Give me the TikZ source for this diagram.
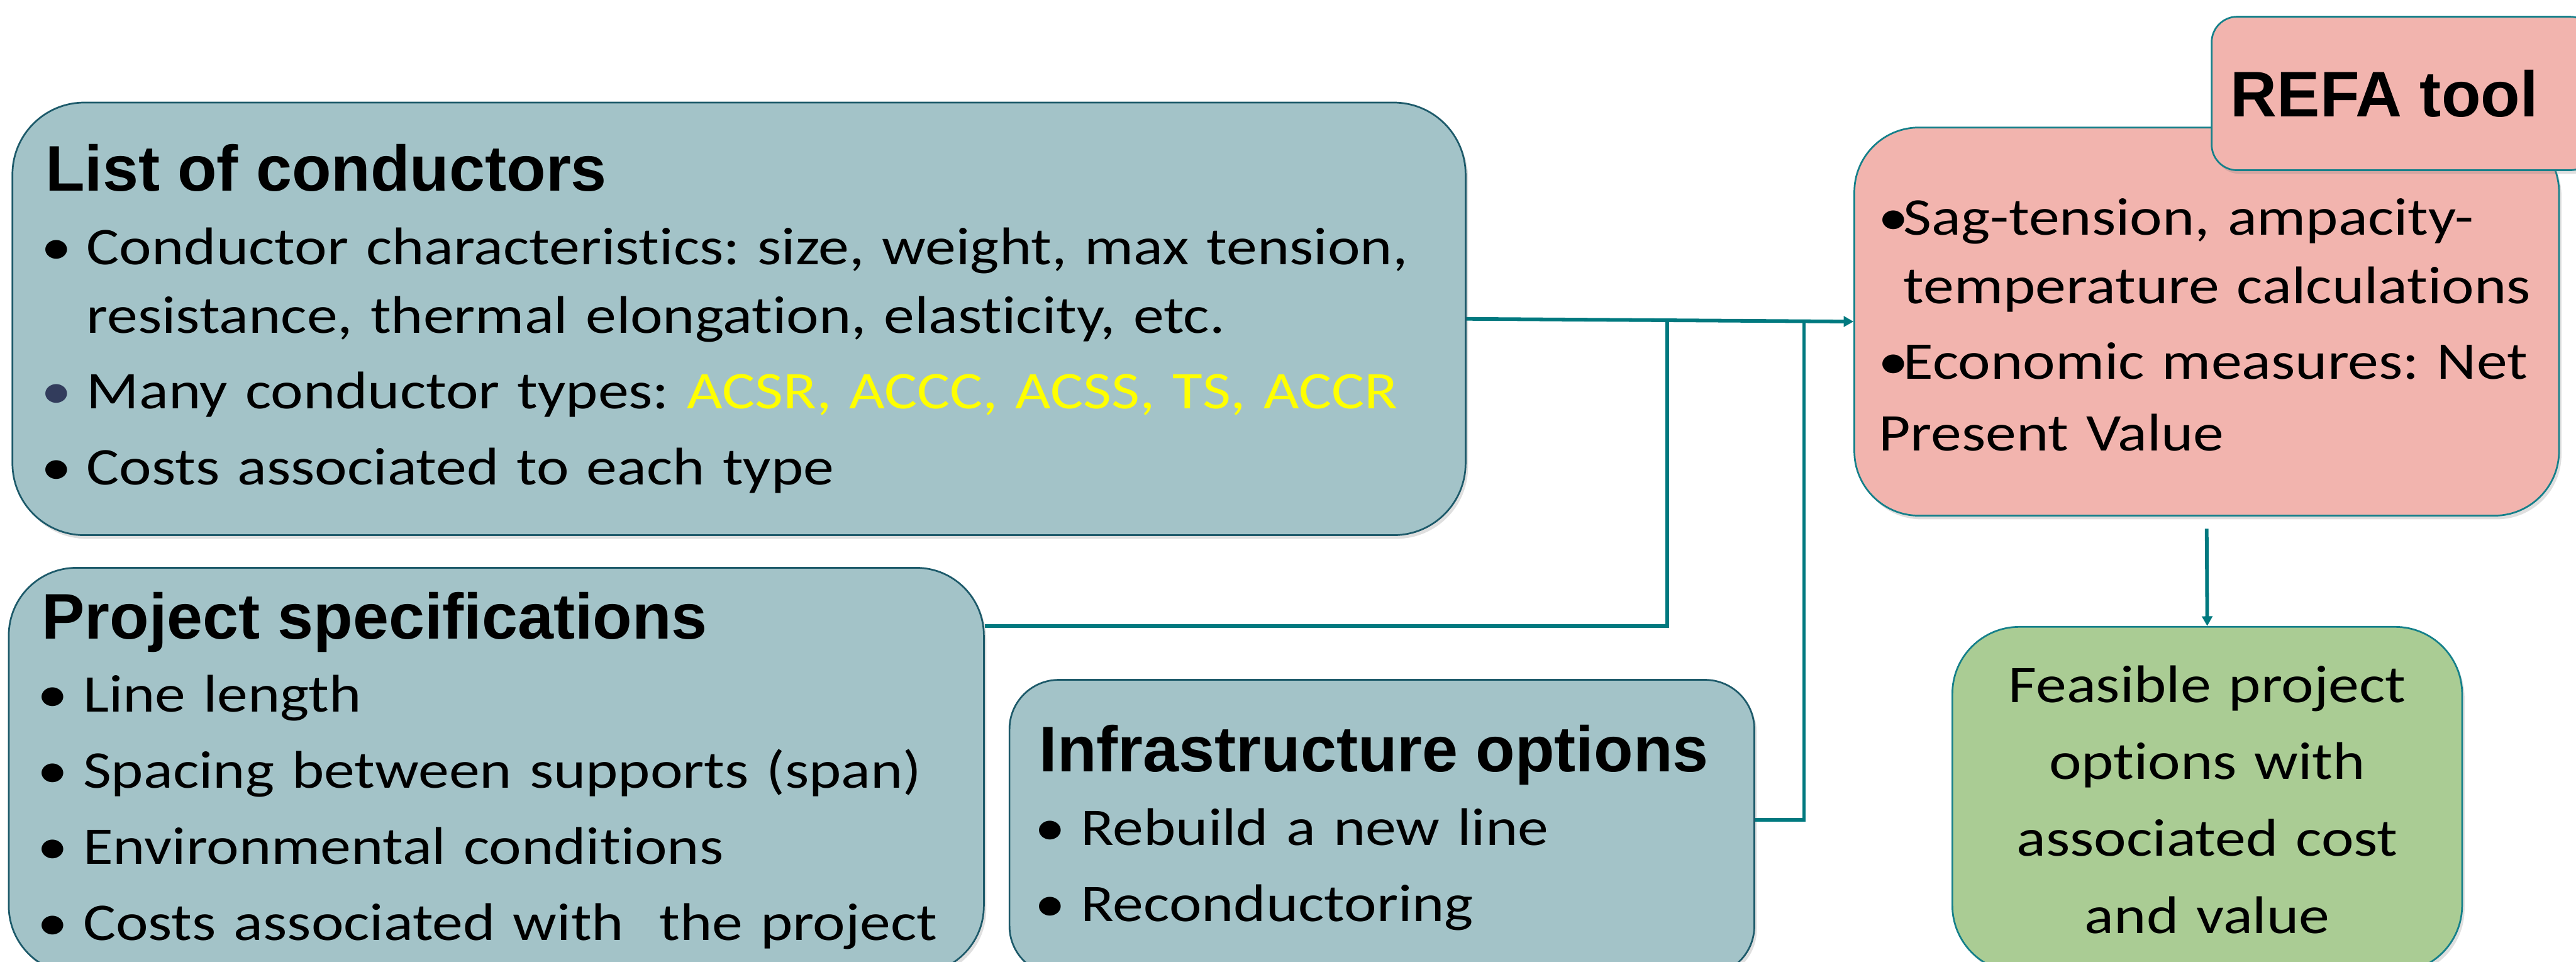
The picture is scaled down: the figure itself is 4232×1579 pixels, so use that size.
\documentclass[tikz,border=0pt]{standalone}
\usepackage{fontspec}
\setmainfont{Carlito}[FakeStretch=1.16, Ligatures=NoCommon]
\newfontfamily\headfont{Liberation Sans}
\usetikzlibrary{arrows.meta,shadows}
\frenchspacing

\definecolor{boxblue}{HTML}{A3C3C8}
\definecolor{boxpink}{HTML}{F2B4AE}
\definecolor{boxgreen}{HTML}{AACC94}
\definecolor{edgeblue}{HTML}{1D5A6A}
\definecolor{edgeteal}{HTML}{15808A}
\definecolor{wirecol}{HTML}{00797F}
\definecolor{typecol}{HTML}{FFFF00}
\definecolor{dimbullet}{HTML}{323C5C}

% bullet position and hanging indent of the list items
\newlength{\bltoff}\setlength{\bltoff}{-0.07cm}
\newlength{\bltind}\setlength{\bltind}{0.68cm}
\newcommand{\blt}[2][black]{\par\hangindent=\bltind\hangafter=1\noindent
  \hbox to\bltind{\hskip\bltoff\textcolor{#1}{\textbullet}\hss}#2}
\newcommand{\boxhead}[1]{{\noindent\headfont\bfseries\fontsize{30.1}{32}\selectfont #1\par}\vspace{-1.2pt}}

\begin{document}
\begin{tikzpicture}[x=0.01cm, y=-0.01cm]
  \tikzset{
    panel/.style={draw=edgeblue, fill=boxblue, line width=0.8pt, anchor=north west,
      inner ysep=0pt, inner xsep=0.54cm, align=left,
      font={\fontsize{24.75}{32}\selectfont\parindent=0pt\setlength{\parskip}{3.5pt}},
      drop shadow={opacity=0.25, shadow xshift=0.04cm, shadow yshift=-0.06cm}},
    toolbox/.style={panel, draw=edgeteal, fill=boxpink},
    resultbox/.style={panel, draw=edgeteal, fill=boxgreen, align=center,
      font={\fontsize{24.75}{35.9}\selectfont\setlength{\parskip}{0pt}}},
    wire/.style={draw=wirecol, line width=1.7pt},
    tip/.style={-{Triangle[length=0.16cm, width=0.17cm]}}
  }

  \useasboundingbox (0,0) rectangle (4232,1579);
  \clip (0,0) rectangle (4232,1579);

  % input panels
  \node[panel, minimum width=23.86cm, minimum height=7.10cm, text width=22.78cm,
    rounded corners=1.18cm] (cond) at (19,167) {%
    \boxhead{List of conductors}
    \blt{\mbox{Conductor characteristics: size, weight, max tension,}\newline
      \mbox{resistance, thermal elongation, elasticity, etc.}}
    \blt[dimbullet]{\mbox{Many conductor types: \textcolor{typecol}{ACSR, ACCC, ACSS, TS, ACCR}}}
    \blt{\mbox{Costs associated to each type}}};

  \node[panel, minimum width=16.01cm, minimum height=6.66cm, text width=14.93cm,
    rounded corners=1.11cm] (spec) at (13,931) {%
    \boxhead{Project specifications}
    \blt{Line length}
    \blt{\mbox{Spacing between supports (span)}}
    \blt{\mbox{Environmental conditions}}
    \blt{\mbox{Costs associated with\ \ the project}}};

  \node[panel, minimum width=12.23cm, minimum height=4.85cm, text width=11.25cm,
    inner xsep=0.49cm, rounded corners=0.81cm] (infra) at (1657,1115) {%
    \boxhead{Infrastructure options}
    \blt{Rebuild a new line}
    \blt{Reconductoring}};

  % tool and result
  \node[toolbox, minimum width=11.57cm, minimum height=6.37cm, text width=10.49cm,
    rounded corners=1.06cm] (calc) at (3045,208) {%
    \setlength{\bltoff}{-0.15cm}\setlength{\bltind}{0.27cm}%
    \blt{\mbox{Sag-tension, ampacity-}\newline\mbox{temperature calculations}}
    \blt{\mbox{Economic measures: Net}}
    \par\vspace{-2pt}\noindent\hspace*{-0.14cm}Present Value
    \par\vspace{0.54cm}\hrule height 0pt};

  \node[toolbox, minimum width=6.30cm, minimum height=2.52cm, text width=5.68cm,
    inner xsep=0.31cm, rounded corners=0.42cm] (refa) at (3632,26)
    {\headfont\bfseries\fontsize{30.1}{31}\selectfont REFA tool};

  \node[resultbox, minimum width=8.37cm, minimum height=5.67cm, text width=7.29cm,
    rounded corners=1.1cm] (result) at (3206,1028)
    {Feasible project\\options with\\associated cost\\and value};

  % connectors
  \path (cond.east) -- (calc.west) coordinate[pos=0.519] (specjoin)
    coordinate[pos=0.872] (infrajoin);
  \draw[wire] ([yshift=-0.97cm]spec.north east) -| (specjoin);
  \draw[wire] ([yshift=0.13cm]infra.east) -| (infrajoin);
  \draw[wire, tip] (cond.east) -- (calc.west);
  \draw[wire, tip] ([yshift=-0.2cm]calc.south) -- (result.north);
\end{tikzpicture}
\end{document}
